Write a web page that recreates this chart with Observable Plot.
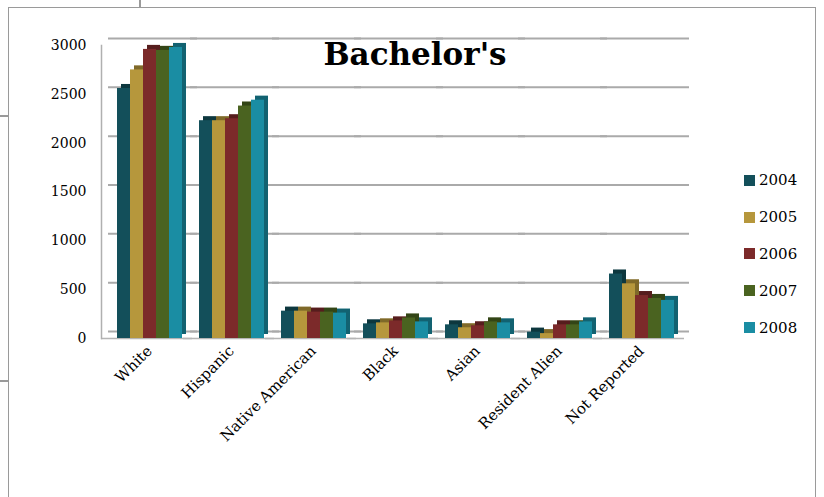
<!DOCTYPE html>
<html><head><meta charset="utf-8">
<script src="https://cdn.jsdelivr.net/npm/d3@7"></script>
<script src="https://cdn.jsdelivr.net/npm/@observablehq/plot@0.6"></script>
<style>
body{margin:0;background:#fff;}
#wrap{position:relative;width:824px;height:497px;overflow:hidden;font-family:"DejaVu Serif",serif;background:#fff;}
.frame{position:absolute;left:8px;top:7px;width:808px;height:520px;border:1.5px solid #9a9a9a;box-sizing:border-box;}
.deco{position:absolute;background:#9a9a9a;}
#chart{position:absolute;left:0;top:0;}
#title{position:absolute;left:265px;width:300px;top:36px;text-align:center;font-weight:bold;font-size:31px;color:#000;}
#legend{position:absolute;left:744px;top:162px;}
.li{display:flex;align-items:center;height:36.8px;font-size:15px;color:#000;}
.sw{width:11px;height:11px;margin-right:4px;}
</style></head><body>
<div id="wrap">
  <div class="deco" style="left:139px;top:0;width:1.5px;height:7px"></div>
  <div class="deco" style="left:0;top:115px;width:8px;height:1.5px"></div>
  <div class="deco" style="left:0;top:380px;width:8px;height:1.5px"></div>
  <div class="frame"></div>
  <div id="chart"></div>
  <div id="title">Bachelor's</div>
  <div id="legend"></div>
</div>
<script>
const categories = ["White","Hispanic","Native American","Black","Asian","Resident Alien","Not Reported"];
const years = ["2004","2005","2006","2007","2008"];
const v2004 = [2560, 2230, 280, 150, 140, 65, 660];
const v2005 = [2750, 2230, 280, 160, 110, 50, 560];
const v2006 = [2960, 2250, 270, 180, 130, 140, 440];
const v2007 = [2950, 2380, 270, 210, 170, 140, 410];
const v2008 = [2980, 2440, 260, 170, 160, 170, 390];
const yTicks = [0, 500, 1000, 1500, 2000, 2500, 3000];
const colors = ["#134f5a", "#b6973c", "#7c2a2a", "#4a6320", "#1a8da3"];

const series = [v2004, v2005, v2006, v2007, v2008];
const data = [];
years.forEach((yr, i) => categories.forEach((c, j) => data.push({cat: c, year: yr, value: series[i][j]})));

const chart = Plot.plot({
  width: 824, height: 497,
  marginTop: 45, marginBottom: 159, marginLeft: 100, marginRight: 134,
  style: {fontFamily: "DejaVu Serif, serif", color: "#000", background: "transparent"},
  fx: {domain: categories, paddingInner: 0.2, paddingOuter: 0.18, label: null},
  x: {domain: years, padding: 0, axis: null},
  y: {domain: [0, 3000], label: null},
  color: {domain: years, range: colors},
  marks: [
    Plot.ruleY(yTicks, {y: d => d, stroke: "#aaaaaa", strokeWidth: 2, dy: -7, insetLeft: -8, insetRight: -15}),
    Plot.ruleY([0], {y: d => d, stroke: "#b5b5b5", strokeWidth: 1.5, insetLeft: -15, insetRight: -10}),
    Plot.frame({anchor: "left", facetAnchor: "left", dx: -15, stroke: "#b0b0b0", strokeWidth: 1.5}),
    Plot.axisY({ticks: yTicks, tickFormat: d3.format("d"), tickSize: 0, tickPadding: 30, fontSize: 14, label: null}),
    Plot.axisFx({anchor: "bottom", tickRotate: -45, tickSize: 0, tickPadding: 10, fontSize: 15, label: null}),
    Plot.barY(data, {fx: "cat", x: "year", y: "value", fill: "year", dx: 4, dy: -4}),
    Plot.barY(data, {fx: "cat", x: "year", y: "value", fill: "#000", fillOpacity: 0.3, dx: 4, dy: -4}),
    Plot.barY(data, {fx: "cat", x: "year", y: "value", fill: "year"})
  ]
});
document.getElementById("chart").appendChild(chart);

const lg = document.getElementById("legend");
years.forEach((yr, i) => {
  const row = document.createElement("div");
  row.className = "li";
  row.innerHTML = `<div class="sw" style="background:${colors[i]}"></div><span>${yr}</span>`;
  lg.appendChild(row);
});
</script>
</body></html>
